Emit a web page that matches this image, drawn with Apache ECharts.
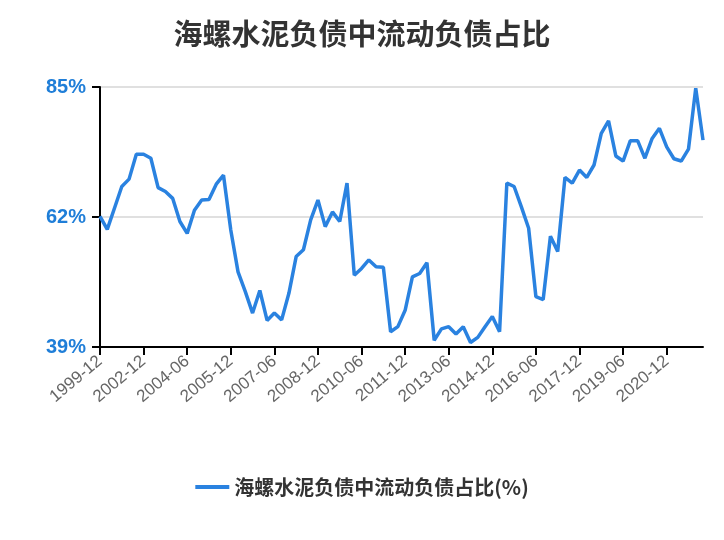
<!DOCTYPE html>
<html>
<head>
<meta charset="utf-8">
<script src="https://cdn.jsdelivr.net/npm/echarts@6/dist/echarts.min.js"></script>
<style>html,body{margin:0;padding:0;background:#fff}#main{width:724px;height:540px}</style>
</head>
<body>
<div id="main"></div>
<script>
// semiannual until 2002-12, quarterly afterwards
const categories = ['1999-12', '2000-06', '2000-12', '2001-06', '2001-12', '2002-06', '2002-12'];
for (let y = 2003; y <= 2022; y++) {
    for (const m of ['03', '06', '09', '12']) {
        if (y === 2022 && m !== '03') break;
        categories.push(y + '-' + m);
    }
}
const values = [
    62.1, 59.8, 63.6, 67.4, 68.7, 73.1, 73.1, 72.4, 67.2, 66.5,
    65.3, 61.2, 59.1, 63.2, 65.0, 65.1, 67.8, 69.4, 59.7, 52.3,
    48.8, 45.0, 49.0, 43.7, 45.0, 43.8, 48.5, 55.0, 56.2, 61.5,
    65.0, 60.3, 62.9, 61.2, 68.0, 51.7, 52.9, 54.4, 53.2, 53.1,
    41.7, 42.6, 45.5, 51.4, 52.0, 53.9, 40.2, 42.2, 42.6, 41.3,
    42.6, 39.8, 40.7, 42.6, 44.4, 41.7, 68.0, 67.4, 63.8, 60.0,
    47.9, 47.4, 58.6, 55.9, 69.0, 68.0, 70.3, 69.0, 71.2, 76.8,
    79.0, 72.8, 71.9, 75.5, 75.5, 72.4, 75.9, 77.7, 74.4, 72.3,
    71.9, 74.0, 84.8, 75.6
];
const seriesName = '海螺水泥负债中流动负债占比(%)';

const chart = echarts.init(document.getElementById('main'));
chart.setOption({
    animation: false,
    title: {
        text: '海螺水泥负债中流动负债占比',
        left: 'center', top: 14,
        textStyle: {fontSize: 29, fontWeight: 'bold', color: '#333', fontFamily: 'Noto Sans CJK SC'}
    },
    legend: {
        bottom: 38, itemWidth: 34, itemHeight: 4,
        textStyle: {fontSize: 20, fontWeight: 'bold', color: '#333', fontFamily: 'Noto Sans CJK SC'},
        icon: 'rect'
    },
    grid: {left: 100, right: 21, top: 87, bottom: 193},
    xAxis: {
        type: 'category', data: categories, boundaryGap: false,
        axisLine: {lineStyle: {color: '#000', width: 2}},
        axisTick: {alignWithLabel: true, interval: 5, length: 8, lineStyle: {color: '#000', width: 2}},
        axisLabel: {interval: 5, rotate: 40, fontSize: 17, color: '#666', margin: 12}
    },
    yAxis: {
        type: 'value', min: 39, max: 85, interval: 23,
        axisLine: {show: true, lineStyle: {color: '#000', width: 2}},
        axisTick: {show: true, length: 8, lineStyle: {color: '#000', width: 2}},
        axisLabel: {formatter: '{value}%', fontSize: 20, fontWeight: 'bold', color: '#1f7ed8', margin: 14},
        splitLine: {lineStyle: {color: '#e0e0e0', width: 2}}
    },
    series: [{
        name: seriesName, type: 'line', data: values,
        showSymbol: false, symbol: 'none',
        lineStyle: {color: '#2a82e0', width: 3.5},
        itemStyle: {color: '#2a82e0'}
    }]
});
</script>
</body>
</html>
